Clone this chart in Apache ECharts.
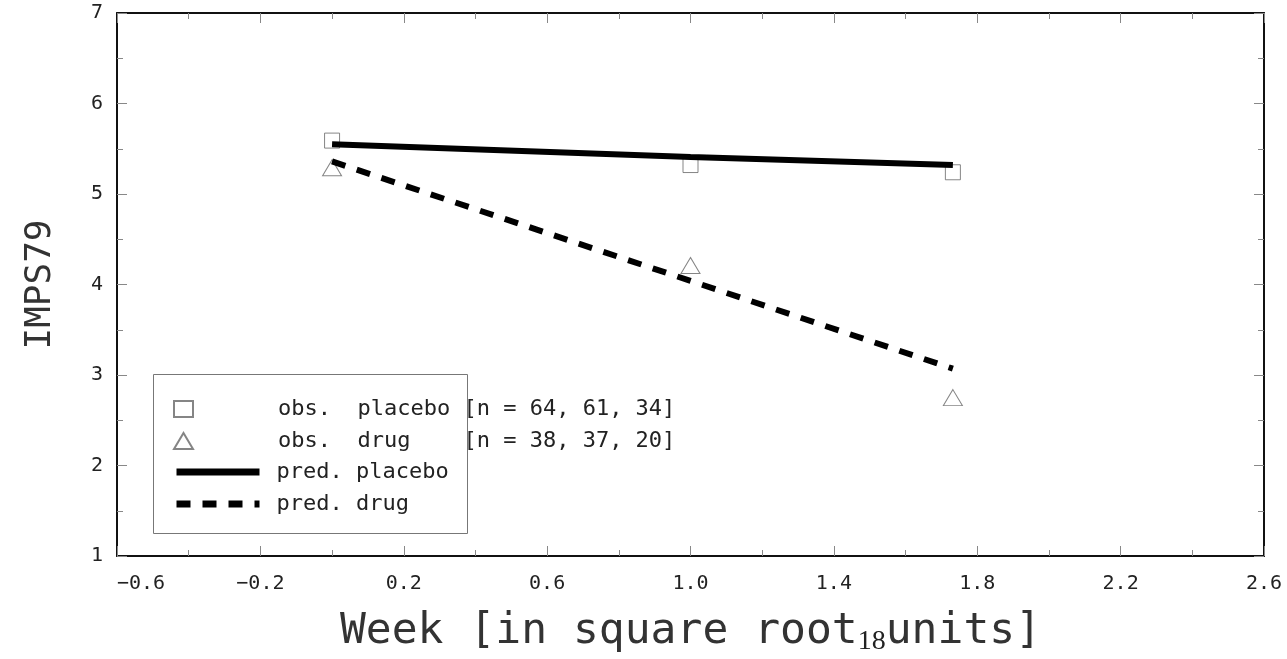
<!DOCTYPE html>
<html>
<head>
<meta charset="utf-8">
<script src="https://cdn.jsdelivr.net/npm/echarts@6/dist/echarts.min.js"></script>
<style>
  html, body { margin: 0; padding: 0; background: #fff; }
  #chart { width: 1287px; height: 659px; }
</style>
</head>
<body>
<div id="chart"></div>
<script>
// weeks in square root units
const weeks = [0, 1, 1.732]
const obsPlacebo = [5.59, 5.32, 5.24]
const obsDrug = [5.29, 4.21, 2.75]
const predPlacebo = [5.55, 5.41, 5.32]
const predDrug = [5.36, 4.04, 3.07]

const xTicks = { min: -0.6, max: 2.6, step: 0.4 }
const yTicks = { min: 1, max: 7, step: 1 }

const names = {
  obsPlacebo: 'obs.  placebo [n = 64, 61, 34]',
  obsDrug: 'obs.  drug    [n = 38, 37, 20]',
  predPlacebo: 'pred. placebo',
  predDrug: 'pred. drug'
}

const mono = 'DejaVu Sans Mono'
const pairs = ys => weeks.map((w, i) => [w, ys[i]])

const chart = echarts.init(document.getElementById('chart'))

const tickStyle = {
  axisLine: { show: true, onZero: false, lineStyle: { color: '#111', width: 2 } },
  axisTick: { show: true, inside: true, length: 10, lineStyle: { color: '#888', width: 1 } },
  minorTick: { show: true, splitNumber: 2, length: 6, lineStyle: { color: '#888', width: 1 } },
  splitLine: { show: false },
  minorSplitLine: { show: false }
}

const option = {
  animation: false,
  backgroundColor: '#fff',
  grid: { left: 117, right: 23, top: 13, bottom: 103, outerBoundsMode: 'none' },
  xAxis: [
    {
      type: 'value',
      min: xTicks.min,
      max: xTicks.max,
      interval: xTicks.step,
      position: 'bottom',
      ...tickStyle,
      axisLabel: {
        margin: 18,
        fontFamily: mono,
        fontSize: 20,
        color: '#222',
        alignMinLabel: 'left',
        formatter: v => (Math.round(v * 10) / 10).toFixed(1).replace('-', '\u2212')
      },
      name: '{a|Week [in square root}{b|18}{a|units]}',
      nameLocation: 'middle',
      nameGap: 52,
      nameTextStyle: {
        rich: {
          a: { fontFamily: mono, fontSize: 43, color: '#333', lineHeight: 48 },
          b: { fontFamily: 'Liberation Serif', fontSize: 28, color: '#222', lineHeight: 28, verticalAlign: 'bottom' }
        }
      }
    },
    {
      type: 'value',
      min: xTicks.min,
      max: xTicks.max,
      interval: xTicks.step,
      position: 'top',
      ...tickStyle,
      axisLabel: { show: false }
    }
  ],
  yAxis: [
    {
      type: 'value',
      min: yTicks.min,
      max: yTicks.max,
      interval: yTicks.step,
      position: 'left',
      ...tickStyle,
      axisLabel: { margin: 14, fontFamily: mono, fontSize: 20, color: '#222' },
      name: 'IMPS79',
      nameLocation: 'middle',
      nameGap: 58,
      nameTextStyle: { fontFamily: mono, fontSize: 36, color: '#333' }
    },
    {
      type: 'value',
      min: yTicks.min,
      max: yTicks.max,
      interval: yTicks.step,
      position: 'right',
      ...tickStyle,
      axisLabel: { show: false }
    }
  ],
  legend: [
    {
      data: [names.obsPlacebo, names.obsDrug],
      orient: 'vertical',
      left: 173,
      top: 398,
      padding: 0,
      itemWidth: 19,
      itemHeight: 16,
      itemGap: 10,
      selectedMode: false,
      textStyle: { fontFamily: mono, fontSize: 22, color: '#222', padding: [0, 0, 0, 80] }
    },
    {
      data: [names.predPlacebo, names.predDrug],
      orient: 'vertical',
      left: 173,
      top: 461,
      padding: 0,
      itemWidth: 83,
      itemHeight: 7,
      itemGap: 10,
      selectedMode: false,
      lineStyle: { width: 7, color: '#000' },
      itemStyle: { opacity: 0 },
      textStyle: { fontFamily: mono, fontSize: 22, color: '#222', padding: [0, 0, 0, 12] }
    }
  ],
  graphic: [
    {
      type: 'rect',
      shape: { x: 153.5, y: 374.5, width: 314, height: 159 },
      style: { fill: 'transparent', stroke: '#777', lineWidth: 1 },
      z: 1
    }
  ],
  series: [
    {
      name: names.obsPlacebo,
      type: 'scatter',
      data: pairs(obsPlacebo),
      symbol: 'rect',
      symbolSize: 15,
      itemStyle: { color: 'transparent', borderColor: '#666', borderWidth: 1 },
      z: 2
    },
    {
      name: names.obsDrug,
      type: 'scatter',
      data: pairs(obsDrug),
      symbol: 'triangle',
      symbolSize: [19, 16],
      itemStyle: { color: 'transparent', borderColor: '#666', borderWidth: 1 },
      z: 2
    },
    {
      name: names.predPlacebo,
      type: 'line',
      data: pairs(predPlacebo),
      symbol: 'none',
      lineStyle: { color: '#000', width: 6 },
      itemStyle: { color: '#000' },
      z: 3
    },
    {
      name: names.predDrug,
      type: 'line',
      data: pairs(predDrug),
      symbol: 'none',
      lineStyle: { color: '#000', width: 6, type: [14, 12] },
      itemStyle: { color: '#000' },
      z: 3
    }
  ]
}

chart.setOption(option)
</script>
</body>
</html>
